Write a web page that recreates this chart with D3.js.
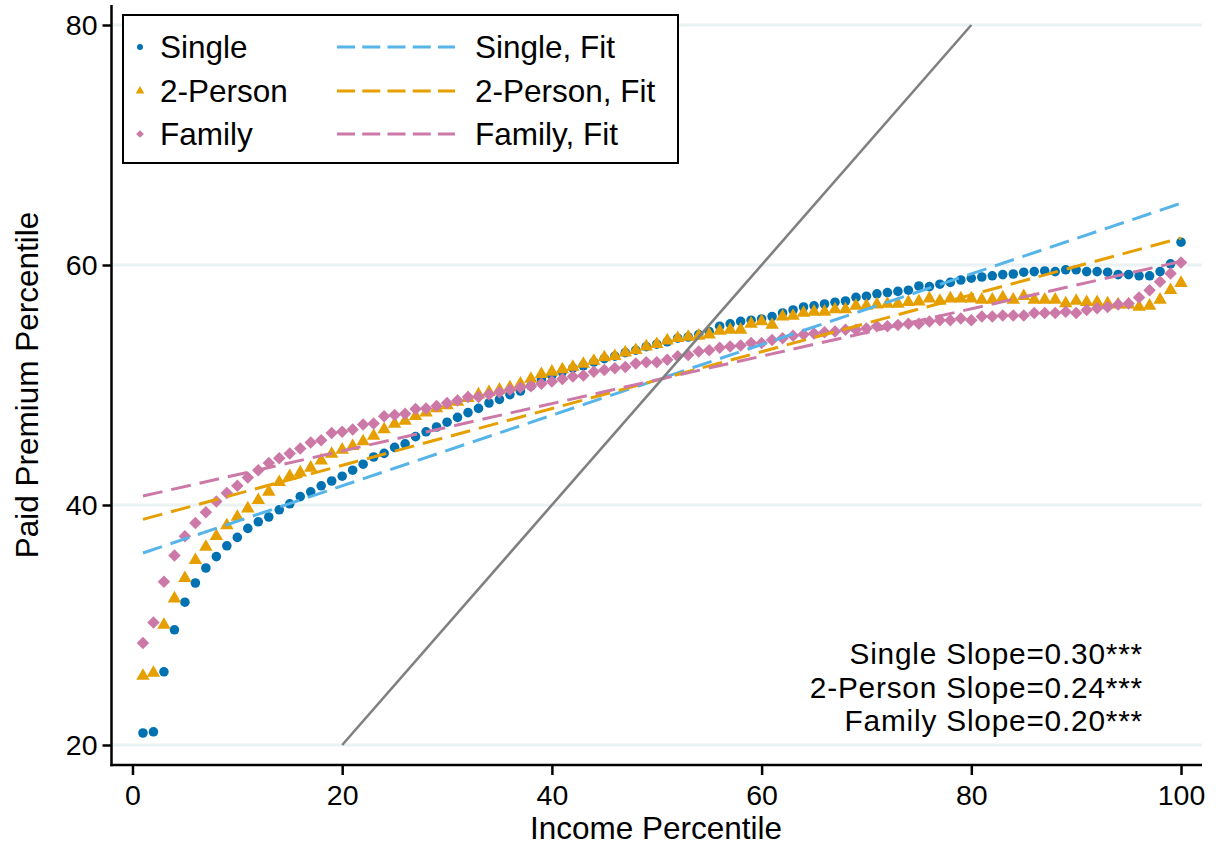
<!DOCTYPE html>
<html>
<head>
<meta charset="utf-8">
<script src="https://cdn.jsdelivr.net/npm/d3@7/dist/d3.min.js"></script>
<style>
  html, body { margin: 0; padding: 0; background: #ffffff; }
  svg { display: block; font-family: "Liberation Sans", Arial, sans-serif; }
</style>
</head>
<body>
<svg id="chart" width="1216" height="850"></svg>
<script>
// ---------- data ----------
const percentiles = d3.range(1, 101);
const singleValues = [
  21.0, 21.1, 26.1, 29.6, 31.9, 33.5, 34.75, 35.7, 36.6, 37.3,
  38.05, 38.6, 39.0, 39.6, 40.1, 40.7, 41.1, 41.6, 42.0, 42.4,
  42.9, 43.4, 44.0, 44.3, 44.8, 45.1, 45.7, 46.1, 46.5, 46.9,
  47.3, 47.7, 48.05, 48.5, 48.8, 49.2, 49.5, 49.9, 50.5, 50.8,
  51.1, 51.4, 51.6, 51.9, 52.2, 52.4, 52.7, 52.9, 53.2, 53.4,
  53.6, 53.9, 54.0, 54.2, 54.45, 54.9, 55.1, 55.3, 55.4, 55.5,
  55.7, 56.0, 56.25, 56.5, 56.6, 56.75, 56.9, 57.0, 57.3, 57.4,
  57.6, 57.7, 57.8, 57.9, 58.25, 58.2, 58.4, 58.55, 58.75, 58.9,
  59.0, 59.1, 59.2, 59.25, 59.4, 59.45, 59.5, 59.45, 59.6, 59.6,
  59.45, 59.45, 59.4, 59.2, 59.2, 59.1, 59.1, 59.45, 60.1, 61.9
];
const twoPersonValues = [
  25.75, 26.0, 30.0, 32.2, 33.9, 35.4, 36.5, 37.4, 38.3, 39.0,
  39.7, 40.4, 41.1, 41.9, 42.4, 42.7, 43.1, 43.7, 44.25, 44.6,
  44.9, 45.3, 45.75, 46.3, 46.75, 47.0, 47.4, 47.7, 48.05, 48.3,
  48.6, 48.9, 49.2, 49.4, 49.6, 49.8, 50.1, 50.5, 50.9, 51.1,
  51.3, 51.5, 51.75, 52.0, 52.3, 52.4, 52.7, 52.9, 53.2, 53.4,
  53.7, 53.9, 54.0, 54.1, 54.2, 54.5, 54.6, 54.6, 55.1, 55.3,
  55.0, 55.7, 55.75, 56.0, 56.1, 56.1, 56.3, 56.3, 56.6, 56.6,
  56.7, 56.75, 56.75, 56.9, 56.95, 57.2, 57.0, 57.2, 57.2, 57.2,
  57.1, 57.1, 57.3, 57.1, 57.4, 57.1, 57.1, 57.1, 56.8, 57.0,
  56.9, 56.9, 56.8, 56.7, 56.7, 56.5, 56.6, 57.1, 57.9, 58.5
];
const familyValues = [
  28.5, 30.2, 33.6, 35.8, 37.4, 38.5, 39.4, 40.3, 41.0, 41.6,
  42.3, 42.9, 43.5, 43.9, 44.3, 44.7, 45.2, 45.4, 46.0, 46.1,
  46.3, 46.7, 46.8, 47.4, 47.5, 47.6, 48.0, 48.05, 48.25, 48.5,
  48.7, 49.0, 49.0, 49.2, 49.4, 49.6, 49.8, 49.9, 50.1, 50.3,
  50.5, 50.7, 50.8, 51.1, 51.25, 51.4, 51.5, 51.8, 51.9, 51.9,
  52.1, 52.4, 52.5, 52.8, 52.9, 53.1, 53.2, 53.3, 53.5, 53.5,
  53.75, 53.9, 54.1, 54.2, 54.3, 54.4, 54.45, 54.6, 54.6, 54.7,
  54.9, 54.9, 55.0, 55.1, 55.1, 55.3, 55.4, 55.4, 55.55, 55.4,
  55.7, 55.7, 55.8, 55.8, 55.8, 56.0, 56.0, 56.0, 56.1, 56.0,
  56.25, 56.4, 56.5, 56.7, 56.8, 57.3, 57.9, 58.6, 59.3, 60.2
];
// fitted lines: [x, y] at both ends
const singleFit = [[1, 36.0], [100, 65.15]];
const twoPersonFit = [[1, 38.8], [100, 62.25]];
const familyFit = [[1, 40.75], [100, 60.3]];
const diagonal = [[20, 20], [80, 80]];
const xTicks = [0, 20, 40, 60, 80, 100];
const yTicks = [20, 40, 60, 80];
const seriesNames = ["Single", "2-Person", "Family"];
const fitNames = ["Single, Fit", "2-Person, Fit", "Family, Fit"];
const slopeLabels = ["Single Slope=0.30***", "2-Person Slope=0.24***", "Family Slope=0.20***"];

// ---------- style ----------
const colors = { single: "#0072B2", two: "#E69F00", family: "#CC79A7", singleFit: "#56B4E9", diag: "#808080" };
const FONT = "31.5px";

const svg = d3.select("#chart");
const x = d3.scaleLinear().domain([-2, 102]).range([111.5, 1202]);
const y = d3.scaleLinear().domain([18.333, 81.667]).range([765, 5]);

// gridlines
svg.append("g").selectAll("line").data(yTicks).join("line")
  .attr("x1", 113).attr("x2", 1202)
  .attr("y1", d => y(d)).attr("y2", d => y(d))
  .attr("stroke", "#eaf2f3").attr("stroke-width", 3);

// axes
const xAxis = svg.append("g").attr("transform", "translate(0,765)")
  .call(d3.axisBottom(x).tickValues(xTicks).tickSize(10).tickPadding(8));
const yAxis = svg.append("g").attr("transform", "translate(111.5,0)")
  .call(d3.axisLeft(y).tickValues(yTicks).tickSize(9).tickPadding(5));
[xAxis, yAxis].forEach(g => {
  g.select(".domain").attr("stroke", "#000").attr("stroke-width", 2.5);
  g.selectAll(".tick line").attr("stroke", "#000").attr("stroke-width", 2.5);
  g.selectAll(".tick text").attr("fill", "#000").style("font-size", "28.5px")
    .style("font-family", "'Liberation Sans', Arial, sans-serif");
});
yAxis.select(".domain").attr("d", "M0,5V766.2");
xAxis.select(".domain").attr("d", "M110.3,0H1202");
xAxis.selectAll(".tick text").attr("dy", "0.78em");
yAxis.selectAll(".tick text").attr("dy", "0.35em");

// axis titles
svg.append("text").attr("x", 656).attr("y", 839).attr("text-anchor", "middle")
  .style("font-size", FONT).text("Income Percentile");
svg.append("text").attr("transform", "translate(38,385) rotate(-90)").attr("text-anchor", "middle")
  .style("font-size", FONT).text("Paid Premium Percentile");

// markers
const plot = svg.append("g");
const circleSym = d3.symbol().type(d3.symbolCircle).size(72);
const triSym = d3.symbol().type(d3.symbolTriangle).size(78);
const diaSym = d3.symbol().type(d3.symbolSquare).size(78);

plot.append("g").selectAll("path").data(percentiles).join("path")
  .attr("d", circleSym)
  .attr("transform", (d, i) => `translate(${x(d)},${y(singleValues[i])})`)
  .attr("fill", colors.single);
plot.append("g").selectAll("path").data(percentiles).join("path")
  .attr("d", triSym)
  .attr("transform", (d, i) => `translate(${x(d)},${y(twoPersonValues[i])})`)
  .attr("fill", colors.two);
plot.append("g").selectAll("path").data(percentiles).join("path")
  .attr("d", diaSym)
  .attr("transform", (d, i) => `translate(${x(d)},${y(familyValues[i])}) rotate(45)`)
  .attr("fill", colors.family);

// fit lines
const line = d3.line().x(d => x(d[0])).y(d => y(d[1]));
[[singleFit, colors.singleFit], [twoPersonFit, colors.two], [familyFit, colors.family]].forEach(([data, c]) => {
  plot.append("path").attr("d", line(data)).attr("fill", "none")
    .attr("stroke", c).attr("stroke-width", 3).attr("stroke-dasharray", "20,9");
});
// 45 degree line
plot.append("path").attr("d", line(diagonal)).attr("fill", "none")
  .attr("stroke", colors.diag).attr("stroke-width", 2.6);

// legend
const lg = svg.append("g");
lg.append("rect").attr("x", 123).attr("y", 15).attr("width", 555).attr("height", 148)
  .attr("fill", "#fff").attr("stroke", "#000").attr("stroke-width", 2);
const rowY = [47, 91, 134];
const legSyms = [
  d3.symbol().type(d3.symbolCircle).size(28),
  d3.symbol().type(d3.symbolTriangle).size(32),
  d3.symbol().type(d3.symbolSquare).size(30)
];
const legColors = [colors.single, colors.two, colors.family];
const fitColors = [colors.singleFit, colors.two, colors.family];
seriesNames.forEach((name, i) => {
  lg.append("path").attr("d", legSyms[i]())
    .attr("transform", `translate(140,${rowY[i]})` + (i === 2 ? " rotate(45)" : ""))
    .attr("fill", legColors[i]);
  lg.append("text").attr("x", 160).attr("y", rowY[i] + 11).style("font-size", FONT).text(name);
  lg.append("line").attr("x1", 337).attr("x2", 455).attr("y1", rowY[i]).attr("y2", rowY[i])
    .attr("stroke", fitColors[i]).attr("stroke-width", 3).attr("stroke-dasharray", "18,7.25");
  lg.append("text").attr("x", 475).attr("y", rowY[i] + 11).style("font-size", FONT).text(fitNames[i]);
});

// slope annotation
slopeLabels.forEach((t, i) => {
  svg.append("text").attr("x", 1143).attr("y", 664 + i * 33.5).attr("text-anchor", "end")
    .style("font-size", "29.8px").style("letter-spacing", "0.8px").text(t);
});
</script>
</body>
</html>
